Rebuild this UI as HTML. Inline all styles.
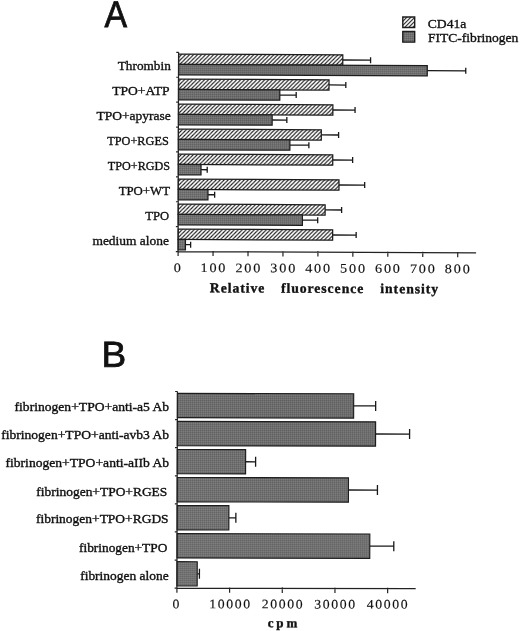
<!DOCTYPE html><html><head><meta charset="utf-8"><title>Figure</title>
<style>html,body{margin:0;padding:0;background:#fff}svg{display:block}text{font-family:"Liberation Serif",serif;fill:#111;stroke:#111;stroke-width:0.35px}.sans{font-family:"Liberation Sans",sans-serif}</style></head><body>
<svg width="520" height="631" viewBox="0 0 520 631">
<defs>
<pattern id="hatch" width="4" height="4" patternUnits="userSpaceOnUse"><rect width="4" height="4" fill="#fff"/><path d="M-1,1 L1,-1 M0,4 L4,0 M3,5 L5,3" stroke="#1a1a1a" stroke-width="1.1"/></pattern>
<pattern id="gray" width="2" height="2" patternUnits="userSpaceOnUse"><rect width="2" height="2" fill="#707070"/><rect width="1" height="1" fill="#5e5e5e"/><rect x="1" y="1" width="1" height="1" fill="#828282"/></pattern>
</defs>
<rect width="520" height="631" fill="#fff"/>
<g transform="rotate(0.02 260 315)">
<text class="sans" transform="translate(104.35,27.1) rotate(0.03) scale(0.91,1)" x="0" y="0" font-size="37.2" style="stroke-width:0.8px">A</text>
<rect x="402.7" y="16.9" width="11.9" height="10.6" fill="url(#hatch)" stroke="#1c1c1c" stroke-width="1.4"/>
<rect x="402.7" y="31.5" width="11.9" height="10.6" fill="url(#gray)" stroke="#1c1c1c" stroke-width="1.4"/>
<text x="427.70" y="27.70" font-size="13.4" textLength="38.60" lengthAdjust="spacingAndGlyphs">CD41a</text>
<text x="427.90" y="41.80" font-size="13.4" textLength="90.30" lengthAdjust="spacingAndGlyphs">FITC-fibrinogen</text>
<text x="117.70" y="70.00" font-size="13.2" textLength="53.00" lengthAdjust="spacingAndGlyphs">Thrombin</text>
<text x="112.10" y="95.00" font-size="13.2" textLength="57.40" lengthAdjust="spacingAndGlyphs">TPO+ATP</text>
<text x="96.40" y="120.00" font-size="13.2" textLength="74.30" lengthAdjust="spacingAndGlyphs">TPO+apyrase</text>
<text x="107.20" y="145.00" font-size="13.2" textLength="61.50" lengthAdjust="spacingAndGlyphs">TPO+RGES</text>
<text x="107.80" y="170.00" font-size="13.2" textLength="62.20" lengthAdjust="spacingAndGlyphs">TPO+RGDS</text>
<text x="118.60" y="195.00" font-size="13.2" textLength="51.40" lengthAdjust="spacingAndGlyphs">TPO+WT</text>
<text x="145.20" y="220.00" font-size="13.2" textLength="23.80" lengthAdjust="spacingAndGlyphs">TPO</text>
<text x="92.40" y="245.00" font-size="13.2" textLength="76.60" lengthAdjust="spacingAndGlyphs">medium alone</text>
<g transform="matrix(1,0.004,-0.0021,1,0.3192,-0.7800)">
<path d="M342.5,59.40 H370.3 M370.3,56.40 V62.40" stroke="#181818" stroke-width="1.3" fill="none"/>
<path d="M427,69.70 H465.5 M465.5,66.70 V72.70" stroke="#181818" stroke-width="1.3" fill="none"/>
<rect x="178.3" y="54.25" width="164.20" height="10.3" fill="url(#hatch)" stroke="#1c1c1c" stroke-width="1.25"/>
<rect x="178.3" y="64.55" width="248.70" height="10.3" fill="url(#gray)" stroke="#1c1c1c" stroke-width="1.25"/>
<path d="M328.8,84.40 H345.6 M345.6,81.40 V87.40" stroke="#181818" stroke-width="1.3" fill="none"/>
<path d="M279.6,94.70 H296 M296,91.70 V97.70" stroke="#181818" stroke-width="1.3" fill="none"/>
<rect x="178.3" y="79.25" width="150.50" height="10.3" fill="url(#hatch)" stroke="#1c1c1c" stroke-width="1.25"/>
<rect x="178.3" y="89.55" width="101.30" height="10.3" fill="url(#gray)" stroke="#1c1c1c" stroke-width="1.25"/>
<path d="M332.7,109.40 H354.9 M354.9,106.40 V112.40" stroke="#181818" stroke-width="1.3" fill="none"/>
<path d="M272,119.70 H286.7 M286.7,116.70 V122.70" stroke="#181818" stroke-width="1.3" fill="none"/>
<rect x="178.3" y="104.25" width="154.40" height="10.3" fill="url(#hatch)" stroke="#1c1c1c" stroke-width="1.25"/>
<rect x="178.3" y="114.55" width="93.70" height="10.3" fill="url(#gray)" stroke="#1c1c1c" stroke-width="1.25"/>
<path d="M321.2,134.40 H338.5 M338.5,131.40 V137.40" stroke="#181818" stroke-width="1.3" fill="none"/>
<path d="M289.8,144.70 H308.8 M308.8,141.70 V147.70" stroke="#181818" stroke-width="1.3" fill="none"/>
<rect x="178.3" y="129.25" width="142.90" height="10.3" fill="url(#hatch)" stroke="#1c1c1c" stroke-width="1.25"/>
<rect x="178.3" y="139.55" width="111.50" height="10.3" fill="url(#gray)" stroke="#1c1c1c" stroke-width="1.25"/>
<path d="M332.7,159.40 H352.6 M352.6,156.40 V162.40" stroke="#181818" stroke-width="1.3" fill="none"/>
<path d="M201,169.70 H207.2 M207.2,166.70 V172.70" stroke="#181818" stroke-width="1.3" fill="none"/>
<rect x="178.3" y="154.25" width="154.40" height="10.3" fill="url(#hatch)" stroke="#1c1c1c" stroke-width="1.25"/>
<rect x="178.3" y="164.55" width="22.70" height="10.3" fill="url(#gray)" stroke="#1c1c1c" stroke-width="1.25"/>
<path d="M339,184.40 H364.7 M364.7,181.40 V187.40" stroke="#181818" stroke-width="1.3" fill="none"/>
<path d="M208,194.70 H214.7 M214.7,191.70 V197.70" stroke="#181818" stroke-width="1.3" fill="none"/>
<rect x="178.3" y="179.25" width="160.70" height="10.3" fill="url(#hatch)" stroke="#1c1c1c" stroke-width="1.25"/>
<rect x="178.3" y="189.55" width="29.70" height="10.3" fill="url(#gray)" stroke="#1c1c1c" stroke-width="1.25"/>
<path d="M325.2,209.40 H341.7 M341.7,206.40 V212.40" stroke="#181818" stroke-width="1.3" fill="none"/>
<path d="M302.5,219.70 H317.8 M317.8,216.70 V222.70" stroke="#181818" stroke-width="1.3" fill="none"/>
<rect x="178.3" y="204.25" width="146.90" height="10.3" fill="url(#hatch)" stroke="#1c1c1c" stroke-width="1.25"/>
<rect x="178.3" y="214.55" width="124.20" height="10.3" fill="url(#gray)" stroke="#1c1c1c" stroke-width="1.25"/>
<path d="M332.8,234.40 H356.3 M356.3,231.40 V237.40" stroke="#181818" stroke-width="1.3" fill="none"/>
<path d="M185.6,244.70 H190.8 M190.8,241.70 V247.70" stroke="#181818" stroke-width="1.3" fill="none"/>
<rect x="178.3" y="229.25" width="154.50" height="10.3" fill="url(#hatch)" stroke="#1c1c1c" stroke-width="1.25"/>
<rect x="178.3" y="239.55" width="7.30" height="10.3" fill="url(#gray)" stroke="#1c1c1c" stroke-width="1.25"/>
<path d="M178.3,52.45 V251.65 H476.3 M176.0,52.45 H178.3 M176.0,77.35 H178.3 M176.0,102.25 H178.3 M176.0,127.14999999999999 H178.3 M176.0,152.05 H178.3 M176.0,176.95 H178.3 M176.0,201.84999999999997 H178.3 M176.0,226.75 H178.3 M176.0,251.64999999999998 H178.3 M178.30,250.85 V256.05 M213.25,250.85 V256.05 M248.20,250.85 V256.05 M283.15,250.85 V256.05 M318.10,250.85 V256.05 M353.05,250.85 V256.05 M388.00,250.85 V256.05 M422.95,250.85 V256.05 M457.90,250.85 V256.05" stroke="#222" stroke-width="1.2" fill="none"/>
<text transform="translate(178.50,272.0) scale(1.09,1)" font-size="13" text-anchor="middle" letter-spacing="1.7" style="stroke-width:0.15px">0</text>
<text transform="translate(214.10,272.0) scale(1.09,1)" font-size="13" text-anchor="middle" letter-spacing="1.7" style="stroke-width:0.15px">100</text>
<text transform="translate(249.00,272.0) scale(1.09,1)" font-size="13" text-anchor="middle" letter-spacing="1.7" style="stroke-width:0.15px">200</text>
<text transform="translate(283.90,272.0) scale(1.09,1)" font-size="13" text-anchor="middle" letter-spacing="1.7" style="stroke-width:0.15px">300</text>
<text transform="translate(318.80,272.0) scale(1.09,1)" font-size="13" text-anchor="middle" letter-spacing="1.7" style="stroke-width:0.15px">400</text>
<text transform="translate(353.70,272.0) scale(1.09,1)" font-size="13" text-anchor="middle" letter-spacing="1.7" style="stroke-width:0.15px">500</text>
<text transform="translate(388.60,272.0) scale(1.09,1)" font-size="13" text-anchor="middle" letter-spacing="1.7" style="stroke-width:0.15px">600</text>
<text transform="translate(423.50,272.0) scale(1.09,1)" font-size="13" text-anchor="middle" letter-spacing="1.7" style="stroke-width:0.15px">700</text>
<text transform="translate(458.40,272.0) scale(1.09,1)" font-size="13" text-anchor="middle" letter-spacing="1.7" style="stroke-width:0.15px">800</text>
<text y="292.3" font-size="13.7" font-weight="bold" letter-spacing="0.95"><tspan x="210.1">Relative</tspan> <tspan x="281.2">fluorescence</tspan> <tspan x="380.6">intensity</tspan></text>
</g>
<text class="sans" transform="translate(101.6,366.85) rotate(0.03) scale(1.02,1)" x="0" y="0" font-size="36.3" style="stroke-width:0.8px">B</text>
<text x="14.60" y="411.40" font-size="12.2" textLength="154.60" lengthAdjust="spacingAndGlyphs">fibrinogen+TPO+anti-a5 Ab</text>
<text x="1.20" y="439.40" font-size="12.2" textLength="168.00" lengthAdjust="spacingAndGlyphs">fibrinogen+TPO+anti-avb3 Ab</text>
<text x="5.55" y="467.30" font-size="12.2" textLength="163.65" lengthAdjust="spacingAndGlyphs">fibrinogen+TPO+anti-aIIb Ab</text>
<text x="36.40" y="495.60" font-size="12.2" textLength="131.00" lengthAdjust="spacingAndGlyphs">fibrinogen+TPO+RGES</text>
<text x="36.00" y="523.40" font-size="12.2" textLength="132.70" lengthAdjust="spacingAndGlyphs">fibrinogen+TPO+RGDS</text>
<text x="79.10" y="551.90" font-size="12.2" textLength="88.30" lengthAdjust="spacingAndGlyphs">fibrinogen+TPO</text>
<text x="80.30" y="580.40" font-size="12.2" textLength="88.40" lengthAdjust="spacingAndGlyphs">fibrinogen alone</text>
<g transform="matrix(1,0.0017,-0.0023,1,1.1270,-0.3315)">
<path d="M353.5,405.60 H375.5 M375.5,400.60 V410.60" stroke="#181818" stroke-width="1.3" fill="none"/>
<rect x="177.25" y="393.45" width="176.25" height="24.3" fill="url(#gray)" stroke="#1c1c1c" stroke-width="1.15"/>
<path d="M375.5,433.64 H409.5 M409.5,428.64 V438.64" stroke="#181818" stroke-width="1.3" fill="none"/>
<rect x="177.25" y="421.50" width="198.25" height="24.3" fill="url(#gray)" stroke="#1c1c1c" stroke-width="1.15"/>
<path d="M245.6,461.69 H255.6 M255.6,456.69 V466.69" stroke="#181818" stroke-width="1.3" fill="none"/>
<rect x="177.25" y="449.54" width="68.35" height="24.3" fill="url(#gray)" stroke="#1c1c1c" stroke-width="1.15"/>
<path d="M348.5,489.73 H377.5 M377.5,484.73 V494.73" stroke="#181818" stroke-width="1.3" fill="none"/>
<rect x="177.25" y="477.58" width="171.25" height="24.3" fill="url(#gray)" stroke="#1c1c1c" stroke-width="1.15"/>
<path d="M229,517.78 H236 M236,512.78 V522.78" stroke="#181818" stroke-width="1.3" fill="none"/>
<rect x="177.25" y="505.63" width="51.75" height="24.3" fill="url(#gray)" stroke="#1c1c1c" stroke-width="1.15"/>
<path d="M370,545.82 H394 M394,540.82 V550.82" stroke="#181818" stroke-width="1.3" fill="none"/>
<rect x="177.25" y="533.67" width="192.75" height="24.3" fill="url(#gray)" stroke="#1c1c1c" stroke-width="1.15"/>
<path d="M197.5,573.87 H199.7 M199.7,568.87 V578.87" stroke="#181818" stroke-width="1.3" fill="none"/>
<rect x="177.25" y="561.72" width="20.25" height="24.3" fill="url(#gray)" stroke="#1c1c1c" stroke-width="1.15"/>
<path d="M177.25,391.55 V588.22 H416 M174.95,391.55 H177.25 M174.95,419.64 H177.25 M174.95,447.74 H177.25 M174.95,475.84 H177.25 M174.95,503.93 H177.25 M174.95,532.02 H177.25 M174.95,560.12 H177.25 M174.95,588.22 H177.25 M177.25,587.42 V592.82 M229.93,587.42 V592.82 M282.61,587.42 V592.82 M335.29,587.42 V592.82 M387.97,587.42 V592.82" stroke="#222" stroke-width="1.2" fill="none"/>
<text transform="translate(177.20,608.2) scale(1.055,1)" font-size="13" text-anchor="middle" letter-spacing="1.55" style="stroke-width:0.15px">0</text>
<text transform="translate(230.80,608.2) scale(1.055,1)" font-size="13" text-anchor="middle" letter-spacing="1.55" style="stroke-width:0.15px">10000</text>
<text transform="translate(283.30,608.2) scale(1.055,1)" font-size="13" text-anchor="middle" letter-spacing="1.55" style="stroke-width:0.15px">20000</text>
<text transform="translate(335.80,608.2) scale(1.055,1)" font-size="13" text-anchor="middle" letter-spacing="1.55" style="stroke-width:0.15px">30000</text>
<text transform="translate(388.30,608.2) scale(1.055,1)" font-size="13" text-anchor="middle" letter-spacing="1.55" style="stroke-width:0.15px">40000</text>
<text x="268.1" y="627" font-size="13" font-weight="bold" letter-spacing="2.9">cpm</text>
</g>
</g>
</svg></body></html>
